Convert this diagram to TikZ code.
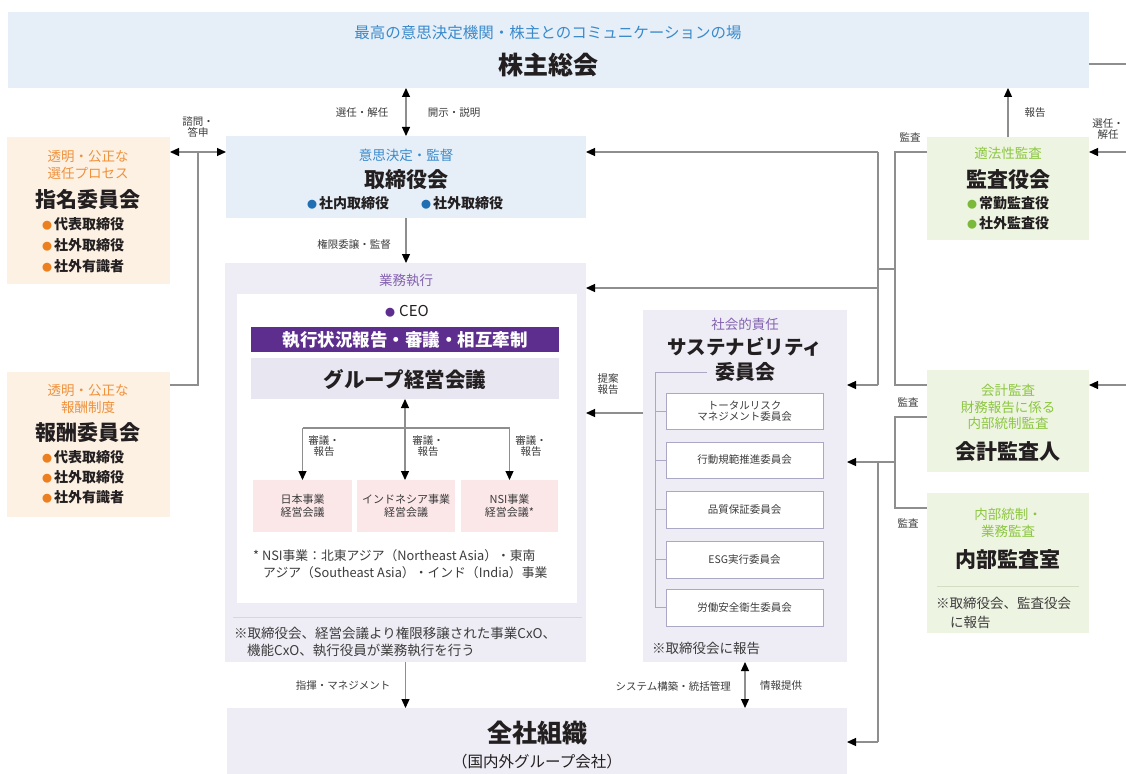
\documentclass[tikz,border=0pt]{standalone}
\usepackage{fontspec}
\setmainfont{Noto Sans CJK JP}
\usetikzlibrary{arrows.meta,calc}
\definecolor{blueF}{HTML}{E6EFF8}
\definecolor{blueT}{HTML}{3A8ACB}
\definecolor{blueB}{HTML}{1F6FB2}
\definecolor{orF}{HTML}{FDF1E4}
\definecolor{orT}{HTML}{F0913A}
\definecolor{orB}{HTML}{EC7F1F}
\definecolor{lavF}{HTML}{EEEDF5}
\definecolor{purT}{HTML}{8462B0}
\definecolor{purBar}{HTML}{5E2E8F}
\definecolor{grpF}{HTML}{E7E6F1}
\definecolor{pinkF}{HTML}{FBE6E8}
\definecolor{grF}{HTML}{EEF4E2}
\definecolor{grT}{HTML}{8CC640}
\definecolor{grB}{HTML}{7BB93A}
\definecolor{lineG}{HTML}{8E8E8E}
\definecolor{txt}{HTML}{231F20}
\definecolor{lblT}{HTML}{3C3C3C}
\definecolor{subB}{HTML}{ABA8C6}
\definecolor{sepL}{HTML}{D6D4E6}
\definecolor{sepG}{HTML}{D3DDC4}
\newcommand{\fsz}[1]{\fontsize{#1}{#1}\selectfont}
\newcommand{\blt}[1]{{\color{#1}\fsz{10}●}\hspace{2pt}}
\tikzset{
  box/.style={inner sep=0pt, outer sep=0pt, anchor=north west, draw=none},
  con/.style={draw=lineG, line width=1.2pt},
  arr/.style={con, -{Triangle[length=9pt,width=8pt,color=black]}},
  darr/.style={con, {Triangle[length=9pt,width=8pt,color=black]}-{Triangle[length=9pt,width=8pt,color=black]}},
  lbl/.style={font=\fsz{10.5}, text=lblT, align=center, inner sep=0pt},
  sub/.style={font=\fsz{13.5}, align=center, inner sep=0pt},
  nm/.style={font=\bfseries\fsz{21}, text=txt, inner sep=0pt},
  bl/.style={font=\bfseries\fsz{14}, text=txt, inner sep=0pt, anchor=west},
  note/.style={font=\fsz{13.5}, text=lblT, inner sep=0pt, anchor=west},
  brk/.style={draw=subB, line width=1pt},
  sbox/.style={box, fill=white, draw=subB, line width=1pt, minimum width=157pt},
  sbt/.style={font=\fsz{10.5}, text=lblT, align=center, inner sep=0pt}
}
\begin{document}
\begin{tikzpicture}[x=1pt,y=-1pt]
\useasboundingbox (0,0) rectangle (1126,773);
\fill[white] (0,0) rectangle (1126,773);

% ---------- boxes ----------
\node[box, fill=blueF, minimum width=1081pt, minimum height=76pt] (sh) at (8,12) {};
\node[sub, font=\fsz{15.5}, text=blueT] (shT) at (548,33) {最高の意思決定機関・株主とのコミュニケーションの場};
\node[nm, font=\bfseries\fsz{25}] (shN) at (548,65) {株主総会};

\node[box, fill=blueF, minimum width=360pt, minimum height=82pt] (bd) at (226,136) {};
\node[sub, text=blueT] (bdT) at (406,155) {意思決定・監督};
\node[nm] (bdN) at (406,180) {取締役会};
\node[bl, anchor=center] (bdB) at (405,203) {\blt{blueB}社内取締役\hspace{32pt}\blt{blueB}社外取締役};

\node[box, fill=orF, minimum width=163pt, minimum height=147pt] (nom) at (7,137) {};
\node[sub, text=orT] (nomT) at (88,165) {透明・公正な\\[3pt]選任プロセス};
\node[nm] (nomN) at (88,199) {指名委員会};
\node[bl] (nomB1) at (42,224) {\blt{orB}代表取締役};
\node[bl] (nomB2) at (42,245) {\blt{orB}社外取締役};
\node[bl] (nomB3) at (42,266) {\blt{orB}社外有識者};

\node[box, fill=orF, minimum width=163pt, minimum height=145pt] (rem) at (7,372) {};
\node[sub, text=orT] (remT) at (88,399) {透明・公正な\\[3pt]報酬制度};
\node[nm] (remN) at (88,433) {報酬委員会};
\node[bl] (remB1) at (42,457) {\blt{orB}代表取締役};
\node[bl] (remB2) at (42,477) {\blt{orB}社外取締役};
\node[bl] (remB3) at (42,497) {\blt{orB}社外有識者};

% executive block
\node[box, fill=lavF, minimum width=361pt, minimum height=399pt] (exec) at (225,263) {};
\node[sub, text=purT] (execT) at (406,280) {業務執行};
\node[box, fill=white, minimum width=340pt, minimum height=309pt] (inner) at (237,294) {};
\node[font=\fsz{15}, text=txt, inner sep=0pt] (ceo) at (407,311) {{\color{purBar}\fsz{10}●}\hspace{4pt}CEO};
\node[box, fill=purBar, minimum width=308pt, minimum height=25pt] (bar) at (251,327) {};
\node[font=\bfseries\fsz{17.5}, text=white, inner sep=0pt] (barT) at (405,340) {執行状況報告・審議・相互牽制};
\node[box, fill=grpF, minimum width=308pt, minimum height=41pt] (grp) at (251,358) {};
\node[nm, font=\bfseries\fsz{20.5}] (grpT) at (405,380) {グループ経営会議};
\node[box, fill=pinkF, minimum width=99pt, minimum height=52pt] (pjp) at (253,480) {};
\node[box, fill=pinkF, minimum width=98pt, minimum height=52pt] (pid) at (357,480) {};
\node[box, fill=pinkF, minimum width=97pt, minimum height=52pt] (pnsi) at (461,480) {};
\node[sbt, font=\fsz{11}] (pjpT) at (pjp.center) {日本事業\\[2pt]経営会議};
\node[sbt, font=\fsz{11}] (pidT) at (pid.center) {インドネシア事業\\[2pt]経営会議};
\node[sbt, font=\fsz{11}] (pnsiT) at (pnsi.center) {NSI事業\\[2pt]経営会議*};
\node[note, font=\fsz{12.8}] (nsi1) at (253,556) {* NSI事業：北東アジア（Northeast Asia）・東南};
\node[note, font=\fsz{12.8}] (nsi2) at (263,573) {アジア（Southeast Asia）・インド（India）事業};
\draw[draw=sepL, line width=1pt] (233,617) -- (582,617);
\node[note] (exN1) at (234,633) {※取締役会、経営会議より権限移譲された事業CxO、};
\node[note] (exN2) at (247,650) {機能CxO、執行役員が業務執行を行う};

% sustainability block
\node[box, fill=lavF, minimum width=204pt, minimum height=352pt] (sus) at (643,310) {};
\node[sub, text=purT] (susT) at (745,324) {社会的責任};
\node[nm, font=\bfseries\fsz{19.5}] (susN1) at (745,347) {サステナビリティ};
\node[nm, font=\bfseries\fsz{20}] (susN2) at (745,372) {委員会};
\node[sbox, minimum height=36pt] (sb1) at (666,393) {};
\node[sbox, minimum height=36pt] (sb2) at (666,442) {};
\node[sbox, minimum height=37pt] (sb3) at (666,491) {};
\node[sbox, minimum height=37pt] (sb4) at (666,541) {};
\node[sbox, minimum height=37pt] (sb5) at (666,589) {};
\node[sbt] (sb1T) at (sb1.center) {トータルリスク\\[1pt]マネジメント委員会};
\node[sbt] (sb2T) at (sb2.center) {行動規範推進委員会};
\node[sbt] (sb3T) at (sb3.center) {品質保証委員会};
\node[sbt] (sb4T) at (sb4.center) {ESG実行委員会};
\node[sbt] (sb5T) at (sb5.center) {労働安全衛生委員会};
\coordinate (bx) at (655,372);
\coordinate (bxs) at (707,372);
\draw[brk] (bxs) -- (bx) -- (bx |- sb5.west) -- (sb5.west);
\draw[brk] (bx |- sb1.west) -- (sb1.west);
\draw[brk] (bx |- sb2.west) -- (sb2.west);
\draw[brk] (bx |- sb3.west) -- (sb3.west);
\draw[brk] (bx |- sb4.west) -- (sb4.west);
\node[note] (susN) at (652,648) {※取締役会に報告};

% audit blocks
\node[box, fill=grF, minimum width=162pt, minimum height=103pt] (aud) at (927,137) {};
\node[sub, text=grT] (audT) at (1008,153) {適法性監査};
\node[nm] (audN) at (1008,180) {監査役会};
\node[bl] (audB1) at (967,203) {\blt{grB}常勤監査役};
\node[bl] (audB2) at (967,223) {\blt{grB}社外監査役};

\node[box, fill=grF, minimum width=162pt, minimum height=102pt] (acc) at (927,370) {};
\node[sub, text=grT] (accT) at (1008,407) {会計監査\\[3pt]財務報告に係る\\[3pt]内部統制監査};
\node[nm] (accN) at (1008,452) {会計監査人};

\node[box, fill=grF, minimum width=162pt, minimum height=140pt] (ia) at (927,493) {};
\node[sub, text=grT] (iaT) at (1008,523) {内部統制・\\[3pt]業務監査};
\node[nm] (iaN) at (1008,560) {内部監査室};
\draw[draw=sepG, line width=1pt] (937,586) -- (1079,586);
\node[note] (iaN1) at (936,603) {※取締役会、監査役会};
\node[note] (iaN2) at (950,622) {に報告};

% company-wide organisation
\node[box, fill=lavF, minimum width=620pt, minimum height=66pt] (all) at (227,708) {};
\node[nm, font=\bfseries\fsz{25}] (allN) at (537,733) {全社組織};
\node[sub, font=\fsz{15.5}, text=txt] (allT) at (537,762) {（国内外グループ会社）};

% ---------- connectors ----------
\draw[darr] (bd.north) -- (bd.north |- sh.south);
\node[lbl] (l1) at (362,113) {選任・解任};
\node[lbl] (l2) at (454,113) {開示・説明};

\coordinate (jA) at (198,152);
\coordinate (jB) at (198,385);
\draw[darr] (nom.east |- jA) -- (bd.west |- jA);
\draw[con] (jA) -- (jB) -- (rem.east |- jB);
\node[lbl] (l3) at (198,127) {諮問・\\[1pt]答申};

\draw[arr] (bd.south) -- (bd.south |- exec.north);
\node[lbl] (l4) at (354,244) {権限委譲・監督};

\draw[darr] (grp.south) -- (grp.south |- pid.north);
\coordinate (hy) at (0,428);
\draw[con] (pjp.north |- hy) -- (pnsi.north |- hy);
\draw[arr] (pjp.north |- hy) -- (pjp.north);
\draw[arr] (pnsi.north |- hy) -- (pnsi.north);
\node[lbl] (l5) at (324,446) {審議・\\[1pt]報告};
\node[lbl] (l6) at (428,446) {審議・\\[1pt]報告};
\node[lbl] (l7) at (531,446) {審議・\\[1pt]報告};

\draw[arr] (exec.south) -- (exec.south |- all.north);
\node[lbl] (l8) at (343,686) {指揮・マネジメント};

\draw[darr] (sus.south) -- (sus.south |- all.north);
\node[lbl, anchor=east] (l9) at (731,686) {システム構築・統括管理};
\node[lbl, anchor=west] (l10) at (760,686) {情報提供};

\coordinate (s1) at (643,413);
\draw[arr] (sus.west |- s1) -- (exec.east |- s1);
\node[lbl] (l11) at (608,384) {提案\\[1pt]報告};

% audit system A
\coordinate (a1) at (895,152);
\coordinate (a2) at (878,152);
\coordinate (a3) at (878,269);
\coordinate (a4) at (895,269);
\coordinate (a5) at (895,385);
\coordinate (a6) at (878,385);
\coordinate (a7) at (878,288);
\draw[con] (aud.west |- a1) -- (a1) -- (a5) -- (acc.west |- a5);
\draw[con] (a4) -- (a3);
\draw[con] (a2) -- (a6);
\draw[arr] (a2) -- (bd.east |- a2);
\draw[arr] (a7) -- (exec.east |- a7);
\draw[arr] (a6) -- (sus.east |- a6);
\node[lbl] (l12) at (910,137) {監査};

% audit system B
\coordinate (b1) at (895,417);
\coordinate (b2) at (895,508);
\coordinate (b3) at (895,462);
\coordinate (b4) at (878,462);
\coordinate (b5) at (878,742);
\draw[con] (acc.west |- b1) -- (b1) -- (b2) -- (ia.west |- b2);
\draw[arr] (b3) -- (sus.east |- b3);
\draw[con] (b4) -- (b5);
\draw[arr] (b5) -- (all.east |- b5);
\node[lbl] (l13) at (908,402) {監査};
\node[lbl] (l14) at (908,523) {監査};

% report to shareholders and right edge
\draw[arr] (aud.north) -- (aud.north |- sh.south);
\node[lbl] (l15) at (1035,113) {報告};
\coordinate (r1) at (1126,64);
\coordinate (r2) at (1126,152);
\coordinate (r3) at (1126,385);
\draw[con] (sh.east |- r1) -- (r1);
\draw[arr] (r2) -- (aud.east |- r2);
\draw[arr] (r3) -- (acc.east |- r3);
\node[lbl] (l16) at (1108,129) {選任・\\[1pt]解任};
\end{tikzpicture}
\end{document}
